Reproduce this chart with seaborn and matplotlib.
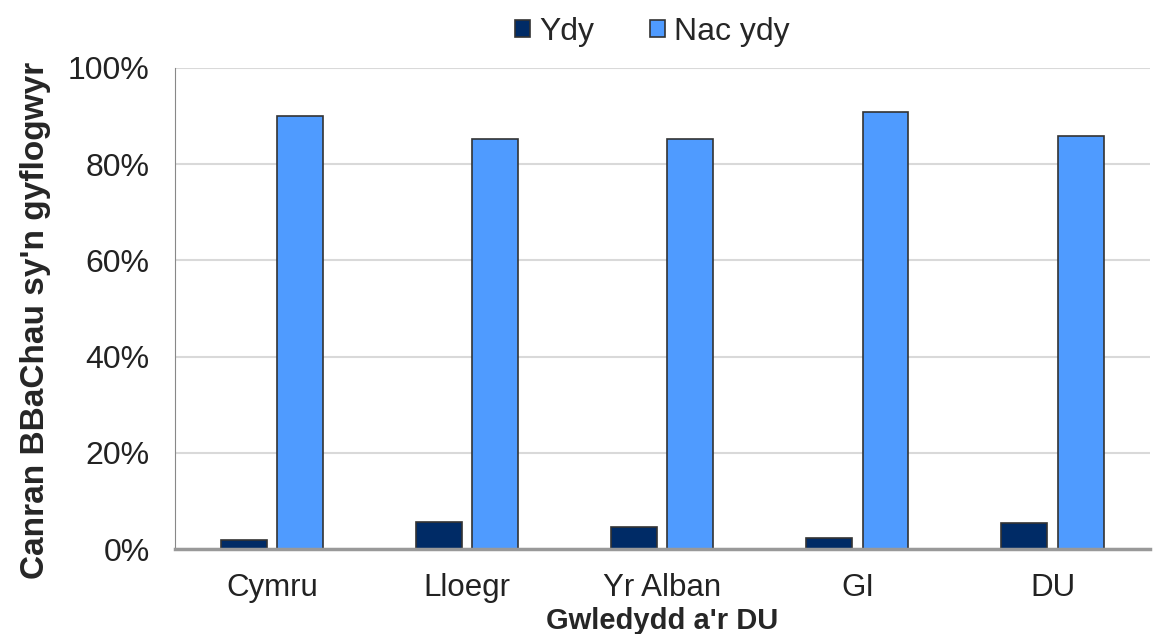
import numpy as np
import pandas as pd
import matplotlib
matplotlib.use('Agg')
import matplotlib.pyplot as plt
import seaborn as sns

# data
countries = ['Cymru', 'Lloegr', 'Yr Alban', 'GI', 'DU']
ydy = [1.8, 5.6, 4.5, 2.3, 5.4]
nac_ydy = [90.0, 85.3, 85.3, 90.9, 85.9]
series = ['Ydy', 'Nac ydy']

df = pd.DataFrame({
    'Gwlad': countries * 2,
    'Canran': ydy + nac_ydy,
    'Ateb': [series[0]] * 5 + [series[1]] * 5,
})

sns.set_style('white')
plt.rcParams['font.family'] = ['Liberation Sans', 'DejaVu Sans']

fig, ax = plt.subplots(figsize=(11.57, 6.34), dpi=100)
sns.barplot(data=df, x='Gwlad', y='Canran', hue='Ateb', hue_order=series,
            palette=['#002B66', '#4F9BFF'], saturation=1, width=0.575, gap=0.18,
            edgecolor='#333333', linewidth=1.2, ax=ax)

ax.set_ylim(0, 100)
ax.set_yticks(range(0, 101, 20))
ax.set_yticklabels([f'{v}%' for v in range(0, 101, 20)])
ax.yaxis.grid(True, color='#d9d9d9', linewidth=1.5)
ax.set_axisbelow(True)
ax.tick_params(axis='y', labelsize=23, colors='#222222', length=0, pad=18)
ax.tick_params(axis='x', labelsize=22.5, colors='#222222', length=0, pad=17)

for s in ['top', 'right']:
    ax.spines[s].set_visible(False)
ax.spines['left'].set_color('#888888')
ax.spines['bottom'].set_color('#999999')
ax.spines['bottom'].set_linewidth(2.5)

ax.set_xlabel("Gwledydd a'r DU", fontsize=21, fontweight='bold', labelpad=3)
ax.set_ylabel("Canran BBaChau sy'n gyflogwyr", fontsize=24, fontweight='bold')
ax.yaxis.set_label_coords(-0.127, 0.476)

ax.legend(loc='lower center', bbox_to_anchor=(0.49, 1.0), ncol=2, frameon=False,
          fontsize=23, handlelength=0.45, handleheight=0.45, handletextpad=0.3,
          columnspacing=1.75, borderaxespad=0.25)

plt.subplots_adjust(left=0.151, right=0.994, top=0.893, bottom=0.134)
fig.savefig('out.png', dpi=100)
